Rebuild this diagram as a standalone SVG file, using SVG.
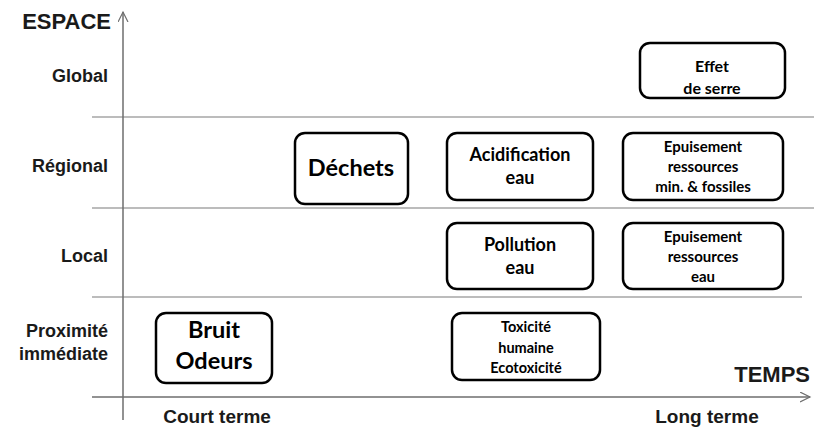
<svg xmlns="http://www.w3.org/2000/svg" width="814" height="432" viewBox="0 0 814 432">
<style>
.grid{stroke:#a6a6a6;stroke-width:1.5;fill:none}
.axis{stroke:#6e6e6e;stroke-width:1.5;fill:none}
.lab{font-family:"Liberation Sans",Arial,sans-serif;font-weight:bold;fill:#1a1a1a}
.box{fill:#fff;stroke:#000;stroke-width:2.5}
.nt{font-family:Lato,"Open Sans",sans-serif;font-weight:bold;fill:#000;text-anchor:middle}
</style>
<defs>
<marker id="open" markerWidth="12" markerHeight="12" refX="10" refY="5" orient="auto" markerUnits="userSpaceOnUse">
<path d="M0,0 L10,5 L0,10" fill="none" stroke="#6e6e6e" stroke-width="1.2"/>
</marker>
</defs>
<g id="grid">
<line class="grid" x1="92" y1="117" x2="814" y2="117"/>
<line class="grid" x1="92" y1="208" x2="814" y2="208"/>
<line class="grid" x1="92" y1="297" x2="802" y2="297"/>
</g>
<g id="connectors">
<line class="axis" x1="123" y1="420" x2="123" y2="12" marker-end="url(#open)"/>
<line class="axis" x1="92" y1="397" x2="810" y2="397" marker-end="url(#open)"/>
</g>
<g id="labels">
<text class="lab" x="111" y="29" font-size="22" text-anchor="end">ESPACE</text>
<text class="lab" x="108" y="82" font-size="18" text-anchor="end">Global</text>
<text class="lab" x="108" y="172" font-size="18" text-anchor="end">Régional</text>
<text class="lab" x="108" y="262" font-size="18" text-anchor="end">Local</text>
<text class="lab" x="108" y="337" font-size="18" text-anchor="end">Proximité</text>
<text class="lab" x="108" y="360" font-size="18" text-anchor="end">immédiate</text>
<text class="lab" x="810" y="382" font-size="22" text-anchor="end">TEMPS</text>
<text class="lab" x="217" y="423" font-size="19" text-anchor="middle">Court terme</text>
<text class="lab" x="707" y="423" font-size="19" text-anchor="middle">Long terme</text>
</g>
<g id="effet-de-serre">
<rect class="box" x="640" y="43" width="145" height="55" rx="10"/>
<text class="nt" x="712" y="72" font-size="16">Effet</text>
<text class="nt" x="712" y="94" font-size="16">de serre</text>
</g>
<g id="dechets">
<rect class="box" x="295" y="133" width="113" height="71" rx="10"/>
<text class="nt" x="351" y="176" font-size="23.5">Déchets</text>
</g>
<g id="acidification">
<rect class="box" x="447" y="133" width="146" height="67" rx="10"/>
<text class="nt" x="520" y="161" font-size="18">Acidification</text>
<text class="nt" x="520" y="184" font-size="18">eau</text>
</g>
<g id="epuisement-min">
<rect class="box" x="623" y="133" width="160" height="67" rx="10"/>
<text class="nt" x="703" y="152" font-size="15">Epuisement</text>
<text class="nt" x="703" y="172" font-size="15">ressources</text>
<text class="nt" x="703" y="192" font-size="15">min. &amp; fossiles</text>
</g>
<g id="pollution">
<rect class="box" x="447" y="223" width="146" height="66" rx="10"/>
<text class="nt" x="520" y="251" font-size="18">Pollution</text>
<text class="nt" x="520" y="274" font-size="18">eau</text>
</g>
<g id="epuisement-eau">
<rect class="box" x="623" y="223" width="160" height="66" rx="10"/>
<text class="nt" x="703" y="242" font-size="15">Epuisement</text>
<text class="nt" x="703" y="262" font-size="15">ressources</text>
<text class="nt" x="703" y="282" font-size="15">eau</text>
</g>
<g id="bruit">
<rect class="box" x="156" y="313" width="116" height="70" rx="10"/>
<text class="nt" x="214" y="338" font-size="23.5">Bruit</text>
<text class="nt" x="214" y="369" font-size="23.5">Odeurs</text>
</g>
<g id="toxicite">
<rect class="box" x="452" y="313" width="148" height="67" rx="10"/>
<text class="nt" x="526" y="332" font-size="14.5">Toxicité</text>
<text class="nt" x="526" y="353" font-size="14.5">humaine</text>
<text class="nt" x="526" y="373" font-size="14.5">Ecotoxicité</text>
</g>
</svg>
